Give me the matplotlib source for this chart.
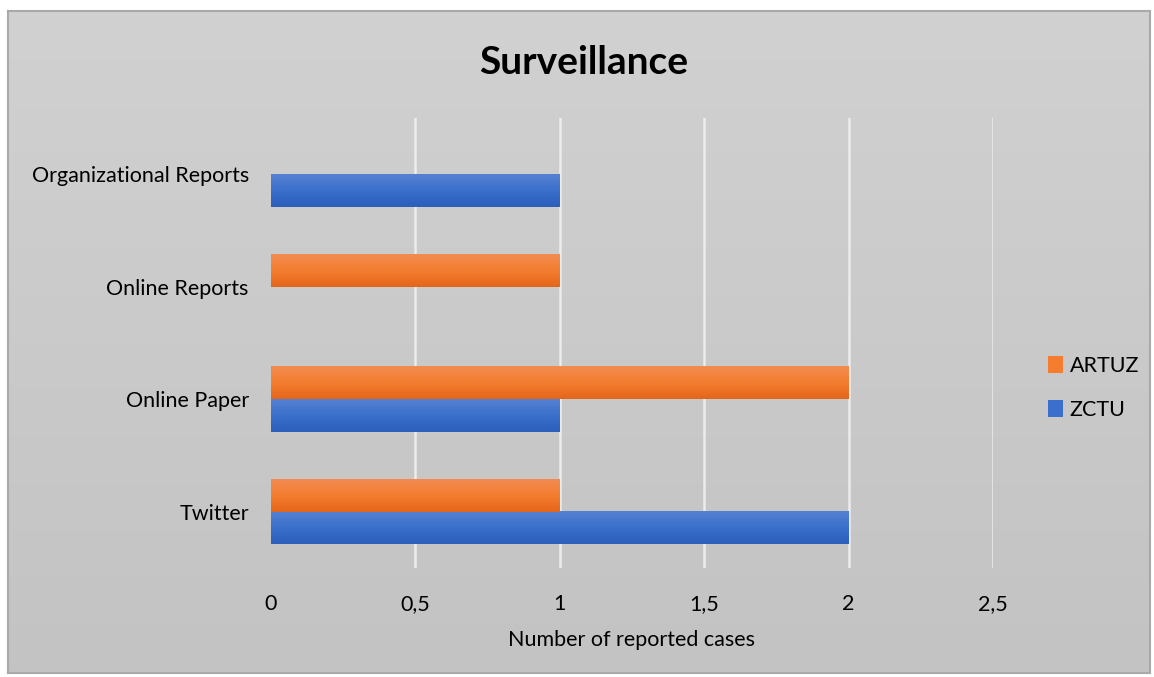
import numpy as np
import matplotlib
matplotlib.use("Agg")
import matplotlib.pyplot as plt
from matplotlib.colors import LinearSegmentedColormap
from matplotlib.patches import Patch

# data
categories = ["Twitter", "Online Paper", "Online Reports", "Organizational Reports"]
zctu = [2, 1, 0, 1]
artuz = [1, 2, 1, 0]
xticks = [0, 0.5, 1, 1.5, 2, 2.5]
xtick_labels = ["0", "0,5", "1", "1,5", "2", "2,5"]

plt.rcParams['font.family'] = ['Lato', 'DejaVu Sans']

W, H = 1154, 677
fig = plt.figure(figsize=(W / 100, H / 100), dpi=100)
fig.patch.set_facecolor("white")

# background panel with soft vertical gradient
bg = fig.add_axes([8 / W, 4 / H, 1142 / W, 662 / H], zorder=0)
bg_cmap = LinearSegmentedColormap.from_list("bg", ["#c3c3c3", "#d1d1d1"])
bg.imshow(np.linspace(0, 1, 256).reshape(-1, 1), cmap=bg_cmap, aspect="auto",
          origin="lower", extent=[0, 1, 0, 1])
bg.set_xticks([])
bg.set_yticks([])
for s in bg.spines.values():
    s.set_color("#a9a9a9")
    s.set_linewidth(1.5)

ax = fig.add_axes([271 / W, 1 - 568 / H, 722 / W, 450 / H], zorder=1)
ax.patch.set_alpha(0)

y = np.arange(len(categories))
h = 0.288
b_z = ax.barh(y - h / 2, zctu, height=h, color="#4472c4", label="ZCTU", zorder=2)
b_a = ax.barh(y + h / 2, artuz, height=h, color="#ed7d31", label="ARTUZ", zorder=2)

# gradient fill over each bar
orange_cmap = LinearSegmentedColormap.from_list("o", ["#e4661a", "#f47d2f", "#f28c52"])
blue_cmap = LinearSegmentedColormap.from_list("b", ["#2c5ebb", "#3a6fcb", "#5681d1"])
grad = np.linspace(0, 1, 128).reshape(-1, 1)
for bars, cm in [(b_z, blue_cmap), (b_a, orange_cmap)]:
    for p in bars:
        w = p.get_width()
        if w <= 0:
            p.set_visible(False)
            continue
        x0, y0 = p.get_x(), p.get_y()
        ax.imshow(grad, cmap=cm, aspect="auto", origin="lower",
                  extent=[x0, x0 + w, y0, y0 + p.get_height()], zorder=3)

ax.set_xlim(0, 2.5)
ax.set_ylim(-0.5, len(categories) - 0.5)
ax.set_xticks(xticks)
ax.set_xticklabels(xtick_labels, fontsize=15.5)
ax.set_yticks(y)
ax.set_yticklabels(categories, fontsize=15.5)
ax.tick_params(axis="both", length=0)
ax.tick_params(axis="y", pad=16)
ax.tick_params(axis="x", pad=19)
ax.xaxis.grid(True, color="#ececec", linewidth=1.8, zorder=1)
ax.xaxis.get_gridlines()[0].set_visible(False)
ax.set_axisbelow(True)
for s in ax.spines.values():
    s.set_visible(False)

ax.set_xlabel("Number of reported cases", fontsize=15.5, labelpad=11)
fig.text(584 / W, 1 - 62 / H, "Surveillance", fontsize=28, fontweight="bold",
         ha="center", va="center")

handles = [Patch(facecolor="#f47d2f", label="ARTUZ"),
           Patch(facecolor="#3a6fcb", label="ZCTU")]
fig.legend(handles=handles, loc="center left", bbox_to_anchor=(1029 / W, 1 - 388 / H),
           frameon=False, fontsize=15.5, labelspacing=1.1, handlelength=0.7,
           handleheight=0.8, handletextpad=0.3)

fig.savefig("out.png", dpi=100)
